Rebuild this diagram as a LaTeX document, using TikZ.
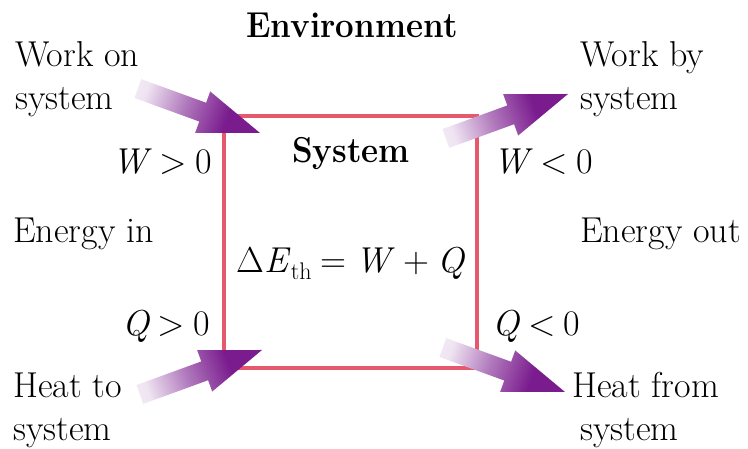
\documentclass[tikz,border=0pt]{standalone}
\usepackage{fontspec}
\usetikzlibrary{calc}
\definecolor{boxred}{RGB}{230,88,108}
\definecolor{purp}{RGB}{122,28,142}
\colorlet{purpmid}{purp!60!white}
\colorlet{purplight}{purp!12!white}
\pgfdeclareverticalshading{fatshade}{100bp}{color(0bp)=(purp); color(35bp)=(purp); color(55bp)=(purpmid); color(75bp)=(purplight); color(100bp)=(white)}
% #1 tip coordinate, #2 direction angle, #3 shading angle (= #2+90)
\newcommand{\fatarrow}[3]{%
  \shade[shading=fatshade, shading angle=#3]
    (#1) -- ($(#1)+(#2+180:61)+(#2+90:22)$)
         -- ($(#1)+(#2+180:61)+(#2+90:10)$)
         -- ($(#1)+(#2+180:130)+(#2+90:10)$)
         -- ($(#1)+(#2+180:130)+(#2-90:10)$)
         -- ($(#1)+(#2+180:61)+(#2-90:10)$)
         -- ($(#1)+(#2+180:61)+(#2-90:22)$) -- cycle;}
\newcommand{\xsb}[1]{\scalebox{0.92}[1]{#1}}
\newcommand{\relsp}[1]{\hspace{8pt}#1\hspace{8pt}}
\begin{document}
\begin{tikzpicture}[x=1pt,y=1pt,
  lbl/.style={inner sep=0pt, font=\fontsize{36}{44}\selectfont},
  bold/.style={lbl, font=\fontsize{36}{44}\selectfont\bfseries},
  sysbox/.style={draw=boxred, line width=3.5pt, inner sep=0pt, minimum width=253pt, minimum height=252pt}]
\useasboundingbox (0,0) rectangle (748,449);
\node[sysbox] (sys) at (350.5,207) {};
% arrow tips
\coordinate (tipWin) at (260,316);
\coordinate (tipQin) at (262,99);
\coordinate (tipWout) at (568,355);
\coordinate (tipQout) at (565,57);
\fatarrow{tipWin}{-20}{70}
\fatarrow{tipQin}{20}{110}
\fatarrow{tipWout}{20}{110}
\fatarrow{tipQout}{-20}{70}
% texts
\node[bold, anchor=base] (env) at (352,411) {\xsb{Environment}};
\node[bold, anchor=base] (systitle) at (351,286) {\xsb{System}};
\node[lbl, anchor=base] (eq) at (351,176) {Δ\textit{E}\raisebox{-7pt}{\fontsize{24}{24}\selectfont th}\hspace{9pt}=\hspace{9pt}\textit{W}\hspace{8pt}+\hspace{8pt}\textit{Q}};
\node[lbl, anchor=base west] (won1) at (15,382) {Work on};
\node[lbl, anchor=base west] (won2) at (15,339) {system};
\node[lbl, anchor=base west] (wby1) at (580,382) {Work by};
\node[lbl, anchor=base west] (wby2) at (580,339) {system};
\node[lbl, anchor=base east] (wpos) at (212,275) {\textit{W}\relsp{>}0};
\node[lbl, anchor=base west] (wneg) at (493,275) {\textit{W}\relsp{<}0};
\node[lbl, anchor=base west] (ein) at (13,206) {Energy in};
\node[lbl, anchor=base west] (eout) at (580,206) {Energy out};
\node[lbl, anchor=base east] (qpos) at (210,113) {\textit{Q}\relsp{>}0};
\node[lbl, anchor=base west] (qneg) at (492,113) {\textit{Q}\relsp{<}0};
\node[lbl, anchor=base west] (hto1) at (13,51) {Heat to};
\node[lbl, anchor=base west] (hto2) at (13,8) {system};
\node[lbl, anchor=base west] (hfr1) at (572,51) {Heat from};
\node[lbl, anchor=base west] (hfr2) at (580,8) {system};
\end{tikzpicture}
\end{document}
